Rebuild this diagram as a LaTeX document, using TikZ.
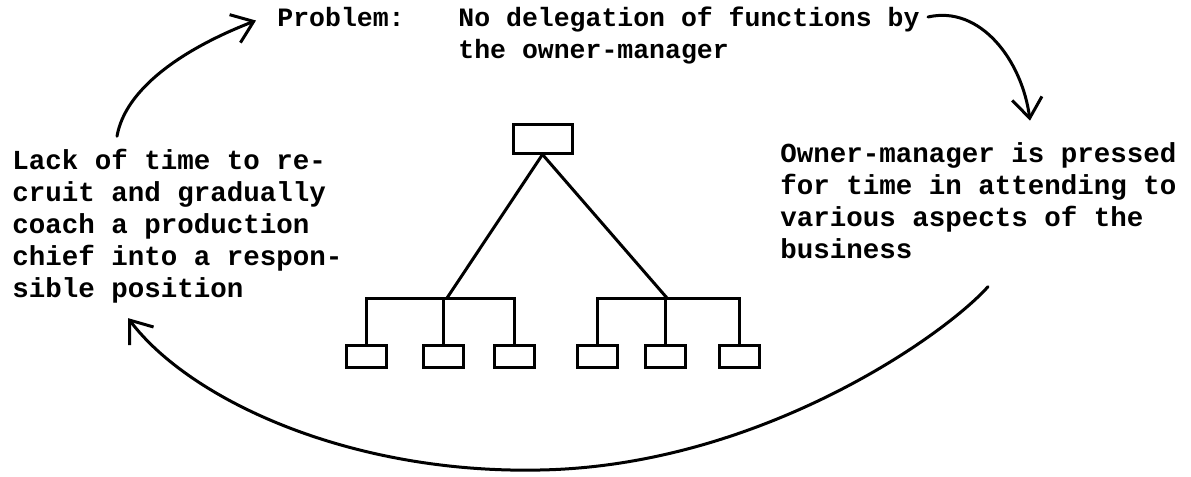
\documentclass[tikz,border=0pt]{standalone}
\usepackage{fontspec}
\setmonofont{Liberation Mono}
\usetikzlibrary{arrows.meta}

\begin{document}
\begin{tikzpicture}[x=0.5pt, y=-0.5pt,
    typed/.style={font=\ttfamily\bfseries\fontsize{13.75}{16}\selectfont, align=left, inner sep=0pt, anchor=base west},
    orgbox/.style={draw, line width=1.5pt, inner sep=0pt, minimum width=20pt, minimum height=11pt},
    orgline/.style={line width=1.5pt},
    cyclearrow/.style={line width=1.5pt, line cap=round, -{Straight Barb[length=10pt, width=15pt]}}]

        \useasboundingbox (0,0) rectangle (1191,477);

        % Draw the text blocks (base = last line)
        \node[typed, font=\ttfamily\bfseries\fontsize{13.25}{16}\selectfont] (problem) at (277,26) {Problem:};
        \node[typed, font=\ttfamily\bfseries\fontsize{13.25}{16}\selectfont] (nodeleg) at (458,58) {No delegation of functions by\\the owner-manager};
        \node[typed] (pressed) at (780,258) {Owner-manager is pressed\\for time in attending to\\various aspects of the\\business};
        \node[typed] (lacktime) at (12,297) {Lack of time to re-\\cruit and gradually\\coach a production\\chief into a respon-\\sible position};

        % Draw the organisation chart
        \node[orgbox, minimum width=29.5pt, minimum height=14.5pt] (owner) at (542.5,138.5) {};
        \foreach \x [count=\i] in {366,443,514,597,665,739} {
            \node[orgbox] (staff\i) at (\x,356) {};
        }
        \coordinate (leftjoin) at (447,298);
        \coordinate (rightjoin) at (667,298);
        \draw[orgline] (owner.south) -- (leftjoin);
        \draw[orgline] (owner.south) -- (rightjoin);
        \draw[orgline] (staff1.north) |- (leftjoin) -| (staff3.north);
        \draw[orgline] (staff2.north) -- (staff2.north |- leftjoin);
        \draw[orgline] (staff4.north) |- (rightjoin) -| (staff6.north);
        \draw[orgline] (staff5.north) -- (staff5.north |- rightjoin);

        % Draw the vicious circle
        \draw[cyclearrow] ([xshift=52.5pt,yshift=6pt]lacktime.north west) .. controls (125,90) and (180,50) .. ([xshift=-10.5pt,yshift=-2pt]problem.west);
        \draw[cyclearrow] ([xshift=4pt,yshift=-5.5pt]nodeleg.north east) .. controls (980,5) and (1022,60) .. ([xshift=125pt,yshift=10.5pt]pressed.north west);
        \draw[cyclearrow] ([xshift=104pt,yshift=-14pt]pressed.south west) .. controls (945,335) and (760,466) .. (540,470) .. controls (350,474) and (190,400) .. ([xshift=58pt,yshift=-7.5pt]lacktime.south west);

    \end{tikzpicture}
\end{document}
